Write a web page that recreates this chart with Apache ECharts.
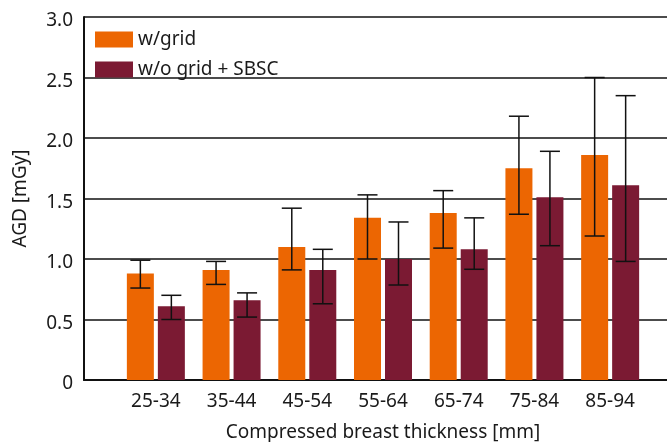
<!DOCTYPE html>
<html>
<head>
<meta charset="utf-8">
<script src="https://cdn.jsdelivr.net/npm/echarts@6/dist/echarts.min.js"></script>
<style>html,body{margin:0;padding:0;background:#fff;}#c{width:667px;height:442px;}</style>
</head>
<body>
<div id="c"></div>
<script>
var categories = ['25-34', '35-44', '45-54', '55-64', '65-74', '75-84', '85-94'];
var gridVals  = [0.88, 0.91, 1.10, 1.34, 1.38, 1.75, 1.86];
var gridLow   = [0.76, 0.79, 0.91, 1.00, 1.09, 1.37, 1.19];
var gridHigh  = [0.99, 0.98, 1.42, 1.53, 1.565, 2.18, 2.50];
var sbscVals  = [0.61, 0.66, 0.91, 1.00, 1.08, 1.51, 1.61];
var sbscLow   = [0.50, 0.52, 0.63, 0.785, 0.915, 1.11, 0.98];
var sbscHigh  = [0.70, 0.72, 1.08, 1.306, 1.34, 1.89, 2.35];
var yTicks = [0, 0.5, 1.0, 1.5, 2.0, 2.5, 3.0];
var yTickLabels = ['0', '0.5', '1.0', '1.5', '2.0', '2.5', '3.0'];

var FONT = 'Noto Sans';
var FS = 19;
var TXT = '#1a1a1a';
var ORANGE = '#EC6602';
var MAROON = '#7B1A33';
var BAR_W = 27, BAR_GAP = 4;

function errData(low, high) {
  return categories.map(function (c, i) { return [i, low[i], high[i]]; });
}
function errSeries(name, low, high, side) {
  return {
    type: 'custom', name: name + ' err', xAxisIndex: 1, yAxisIndex: 1, z: 5,
    silent: true, legendHoverLink: false,
    data: errData(low, high),
    renderItem: function (params, api) {
      var i = api.value(0);
      var lo = api.coord([i, api.value(1)]);
      var hi = api.coord([i, api.value(2)]);
      var x = lo[0] + side * (BAR_W + BAR_GAP) / 2;
      var cap = 10;
      var st = { stroke: '#111', lineWidth: 1.5 };
      return {
        type: 'group',
        children: [
          { type: 'line', shape: { x1: x, y1: lo[1], x2: x, y2: hi[1] }, style: st },
          { type: 'line', shape: { x1: x - cap, y1: lo[1], x2: x + cap, y2: lo[1] }, style: st },
          { type: 'line', shape: { x1: x - cap, y1: hi[1], x2: x + cap, y2: hi[1] }, style: st }
        ]
      };
    }
  };
}

var chart = echarts.init(document.getElementById('c'));
chart.setOption({
  animation: false,
  textStyle: { fontFamily: FONT },
  legend: {
    orient: 'vertical', left: 90, top: 25, itemWidth: 38, itemHeight: 16, itemGap: 11,
    icon: 'rect',
    textStyle: { fontFamily: FONT, fontSize: FS, color: TXT },
    data: ['w/grid', 'w/o grid + SBSC']
  },
  grid: [
    { left: 84, right: 0, top: 17, bottom: 62, containLabel: false, outerBoundsMode: 'none' },
    { left: 118, right: 19, top: 17, bottom: 62, containLabel: false, outerBoundsMode: 'none' }
  ],
  xAxis: [
    { type: 'category', gridIndex: 0, data: [''], axisLine: { show: true, lineStyle: { color: '#111', width: 2 } },
      axisTick: { show: false }, axisLabel: { show: false }, splitLine: { show: false } },
    { type: 'category', gridIndex: 1, data: categories,
      axisLine: { show: false }, axisTick: { show: false },
      axisLabel: { fontFamily: FONT, fontSize: FS, color: TXT, margin: 12 },
      name: 'Compressed breast thickness [mm]', nameLocation: 'middle', nameGap: 43,
      nameTextStyle: { fontFamily: FONT, fontSize: FS, color: TXT } }
  ],
  yAxis: [
    { type: 'value', gridIndex: 0, min: 0, max: 3, interval: 0.5,
      axisLine: { show: true, lineStyle: { color: '#111', width: 2 } },
      axisTick: { show: false },
      axisLabel: { fontFamily: FONT, fontSize: FS, color: TXT, margin: 11,
        verticalAlign: 'top', lineHeight: 8,
        formatter: function (v) { var k = yTicks.indexOf(v); return k >= 0 ? yTickLabels[k] : ''; } },
      splitLine: { show: true, lineStyle: { color: '#111', width: 1.5 } },
      name: 'AGD [mGy]', nameLocation: 'middle', nameGap: 54,
      nameTextStyle: { fontFamily: FONT, fontSize: FS, color: TXT } },
    { type: 'value', gridIndex: 1, min: 0, max: 3, interval: 0.5,
      axisLine: { show: false }, axisTick: { show: false }, axisLabel: { show: false }, splitLine: { show: false } }
  ],
  series: [
    { type: 'bar', name: 'w/grid', xAxisIndex: 1, yAxisIndex: 1, data: gridVals,
      barWidth: BAR_W, barGap: (BAR_GAP / BAR_W * 100) + '%', itemStyle: { color: ORANGE } },
    { type: 'bar', name: 'w/o grid + SBSC', xAxisIndex: 1, yAxisIndex: 1, data: sbscVals,
      barWidth: BAR_W, barGap: (BAR_GAP / BAR_W * 100) + '%', itemStyle: { color: MAROON } },
    errSeries('w/grid', gridLow, gridHigh, -1),
    errSeries('w/o grid + SBSC', sbscLow, sbscHigh, 1)
  ]
});
</script>
</body>
</html>
